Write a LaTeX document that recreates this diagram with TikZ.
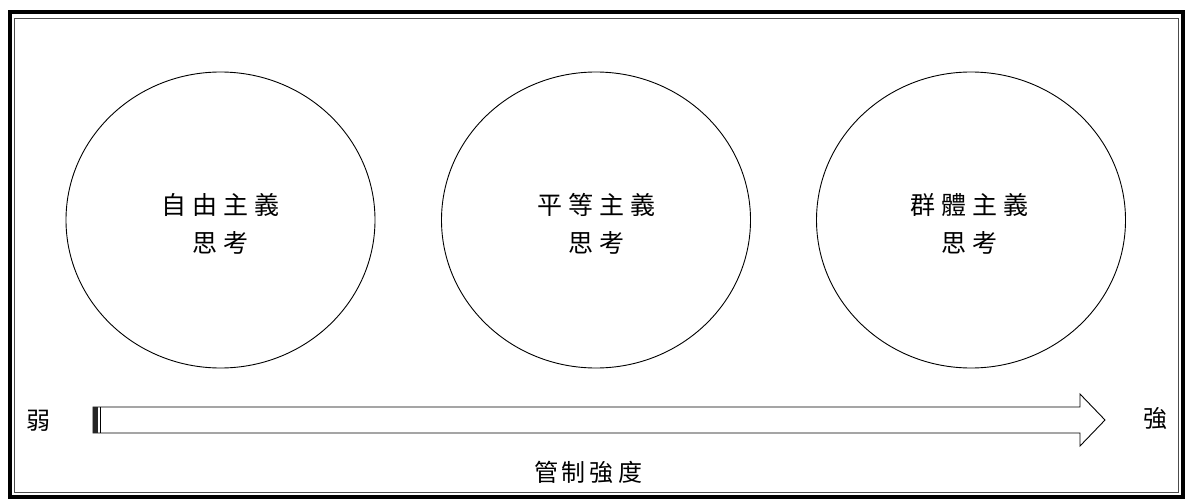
\documentclass[tikz,border=0pt]{standalone}
\usepackage{fontspec}
\usetikzlibrary{shapes.geometric}
\newfontfamily\cjk{Noto Sans CJK TC}
\tikzset{
  circ/.style={draw=black, line width=0.9pt, ellipse, minimum width=309pt, minimum height=296pt, inner sep=0pt},
  ctext/.style={font=\cjk\fontsize{25}{38}\selectfont, align=center},
  stext/.style={font=\cjk\fontsize{24}{28}\selectfont},
}
\newcommand{\gp}{\hspace{6pt}}
\begin{document}
\begin{tikzpicture}[x=1pt,y=-1pt]
\useasboundingbox (0,0) rectangle (1188,500);
% frame
\draw[line width=4pt] (9.5,12.5) rectangle (1183,497);
\draw[line width=0.8pt, gray!60!black] (14.5,18) rectangle (1178,492);
% circles
\node[circ] (c1) at (220.5,220) {};
\node[circ] (c2) at (596,220) {};
\node[circ] (c3) at (971,220) {};
\node[ctext] (t1) at (220.5,224) {自\gp 由\gp 主\gp 義\\思\gp 考};
\node[ctext] (t2) at (596,224) {平\gp 等\gp 主\gp 義\\思\gp 考};
\node[ctext] (t3) at (969,224) {群\gp 體\gp 主\gp 義\\思\gp 考};
% arrow
\draw[line width=0.9pt, fill=white, line join=miter]
  (93,407) -- (1080,407) -- (1080,394) -- (1105,420) -- (1080,446) -- (1080,433) -- (93,433) -- cycle;
\fill[black!85] (93,407) rectangle (98,433);
\draw[line width=0.8pt] (100.5,407) -- (100.5,433);
% labels
\node[stext] (weak) at (39,421) {弱};
\node[stext] (strong) at (1155,419) {強};
\node[stext] (ctl) at (588,472) {管\hspace{4pt}制\hspace{4pt}強\hspace{4pt}度};
\end{tikzpicture}
\end{document}
